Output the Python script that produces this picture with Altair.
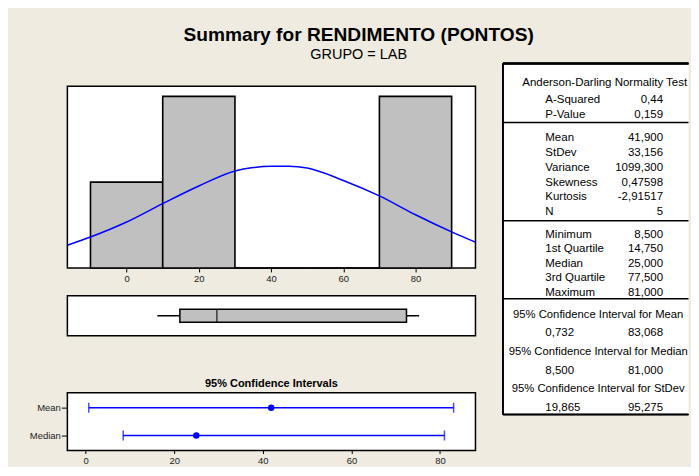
import altair as alt
import pandas as pd

# ---------------- data ----------------
# histogram of RENDIMENTO (PONTOS), GRUPO = LAB
bin_start = [-10, 10, 30, 50, 70]
bin_end = [10, 30, 50, 70, 90]
bin_count = [1, 2, 0, 0, 2]

# fitted normal curve
curve_x = [-16.4, -10, 0, 10, 20, 30, 35, 40, 45, 50, 60, 70, 80, 90, 96.6]
curve_y = [0.265, 0.36, 0.535, 0.75, 0.955, 1.13, 1.17, 1.185, 1.185, 1.165, 1.02, 0.84, 0.62, 0.42, 0.30]

# boxplot statistics
box_stats = {"min": 8.5, "q1": 14.75, "median": 25.0, "q3": 77.5, "max": 81.0}

# 95% confidence intervals
ci_names = ["Mean", "Median"]
ci_est = [41.9, 25.0]
ci_low = [0.732, 8.5]
ci_high = [83.068, 81.0]

# summary table
table_header = "Anderson-Darling Normality Test"
ad_labels = ["A-Squared", "P-Value"]
ad_values = ["0,44", "0,159"]
desc_labels = ["Mean", "StDev", "Variance", "Skewness", "Kurtosis", "N"]
desc_values = ["41,900", "33,156", "1099,300", "0,47598", "-2,91517", "5"]
quart_labels = ["Minimum", "1st Quartile", "Median", "3rd Quartile", "Maximum"]
quart_values = ["8,500", "14,750", "25,000", "77,500", "81,000"]
ci_titles = ["95% Confidence Interval for Mean",
             "95% Confidence Interval for Median",
             "95% Confidence Interval for StDev"]
ci_low_txt = ["0,732", "8,500", "19,865"]
ci_high_txt = ["83,068", "81,000", "95,275"]

# ---------------- styling ----------------
BG = "#EFEBE1"
GREY = "#C0C0C0"
BLUE = "#0000FF"
FONT = "Liberation Sans"
W = 409

hist_x = alt.Scale(domain=[-16.4, 96.6], nice=False, zero=False)
ci_x = alt.Scale(domain=[-4.1, 88.0], nice=False, zero=False)
tick_vals = [0, 20, 40, 60, 80]

def x_axis(ts):
    return alt.Axis(values=tick_vals, title=None, tickSize=ts, labelFontSize=9.5,
                    labelPadding=2, domain=False, grid=False, tickColor="black",
                    labelColor="#222222", format="d")

# ---------------- histogram ----------------
hist_df = pd.DataFrame({"start": bin_start, "end": bin_end, "count": bin_count})
bars = alt.Chart(hist_df).mark_bar(fill=GREY, stroke="black", strokeWidth=1.6).encode(
    x=alt.X("start:Q", scale=hist_x, axis=x_axis(4)),
    x2="end:Q",
    y=alt.Y("count:Q", scale=alt.Scale(domain=[0, 2.117], nice=False), axis=None),
    y2=alt.datum(0),
)
curve_df = pd.DataFrame({"x": curve_x, "y": curve_y})
curve = alt.Chart(curve_df).mark_line(color=BLUE, strokeWidth=1.5, interpolate="monotone",
                                      clip=True).encode(x="x:Q", y="y:Q")
hist = alt.layer(bars, curve).properties(width=W, height=182)

# ---------------- boxplot ----------------
box_df = pd.DataFrame({"row": ["box"], **{k: [v] for k, v in box_stats.items()}})
whisk = alt.Chart(box_df).mark_rule(color="black", strokeWidth=1.5).encode(
    x=alt.X("min:Q", scale=hist_x, axis=None), x2="max:Q",
    y=alt.Y("row:N", axis=None))
boxr = alt.Chart(box_df).mark_bar(size=13, fill=GREY, stroke="black", strokeWidth=1.5).encode(
    x="q1:Q", x2="q3:Q", y="row:N")
med = alt.Chart(box_df).mark_tick(color="black", size=13, thickness=1.5).encode(
    x="median:Q", y="row:N")
box_chart = alt.layer(whisk, boxr, med).properties(width=W, height=40)

# ---------------- confidence intervals ----------------
ci_df = pd.DataFrame({"name": ci_names, "est": ci_est, "low": ci_low, "high": ci_high})
ci_y = alt.Y("name:N", sort=ci_names, scale=alt.Scale(type="point", padding=0.54),
             axis=alt.Axis(title=None, tickSize=6, labelPadding=1, labelFontSize=9.5,
                           domain=False, grid=False, tickColor="black", labelColor="#222222"))
ci_line = alt.Chart(ci_df).mark_rule(color=BLUE, strokeWidth=1.5).encode(
    x=alt.X("low:Q", scale=ci_x, axis=x_axis(3)), x2="high:Q", y=ci_y)
ci_cap_l = alt.Chart(ci_df).mark_tick(color=BLUE, size=10, thickness=1.5).encode(x="low:Q", y=ci_y)
ci_cap_h = alt.Chart(ci_df).mark_tick(color=BLUE, size=10, thickness=1.5).encode(x="high:Q", y=ci_y)
ci_pt = alt.Chart(ci_df).mark_point(filled=True, size=42, color=BLUE, opacity=1).encode(x="est:Q", y=ci_y)
ci_chart = alt.layer(ci_line, ci_cap_l, ci_cap_h, ci_pt).properties(
    width=W, height=58,
    title=alt.TitleParams("95% Confidence Intervals", fontSize=11, fontWeight="bold",
                          font=FONT, offset=4, color="black"))

# ---------------- summary table ----------------
TW, TH = 186, 352
rows = []  # text, ypos, column
seps = []
rows.append((table_header, 17.7, "center"))

def section(labels, values, start, pitch):
    yy = start
    for lbl, val in zip(labels, values):
        rows.append((lbl, yy, "left")); rows.append((val, yy, "right"))
        yy += pitch
    return yy - pitch

last = section(ad_labels, ad_values, 35.3, 14.7)
seps.append(last + 9.3)
last = section(desc_labels, desc_values, seps[-1] + 14.4, 14.8)
seps.append(last + 10)
last = section(quart_labels, quart_values, seps[-1] + 12.5, 14.6)
seps.append(last + 7.3)
y = seps[-1] + 14.3
for t, lo, hi in zip(ci_titles, ci_low_txt, ci_high_txt):
    rows.append((t, y, "cihead")); y += 18.7
    rows.append((lo, y, "left")); rows.append((hi, y, "right")); y += 18.7

tab_df = pd.DataFrame(rows, columns=["text", "ypos", "col"])
sep_df = pd.DataFrame({"ypos": seps})
ty = alt.Y("ypos:Q", scale=alt.Scale(domain=[0, TH], reverse=True, nice=False), axis=None)

def txt(col, align, xpx, fs=11.5):
    return alt.Chart(tab_df).transform_filter(alt.datum.col == col).mark_text(
        align=align, baseline="middle", fontSize=fs, font=FONT, color="black",
        dy=1.5).encode(x=alt.value(xpx), y=ty, text="text:N")

t_left = txt("left", "left", 42.5)
t_right = txt("right", "right", 160.5)
t_center = txt("center", "center", 102)
t_cihead = txt("cihead", "center", 95.5, 11.3)
t_seps = alt.Chart(sep_df).mark_rule(color="black", strokeWidth=1.5).encode(
    x=alt.value(0), x2=alt.value(TW), y=ty)
t_top = alt.Chart(sep_df).mark_rule(color="black", strokeWidth=2).encode(
    x=alt.value(0), x2=alt.value(TW), y=alt.value(0))
t_bot = alt.Chart(sep_df).mark_rule(color="black", strokeWidth=1.5).encode(
    x=alt.value(0), x2=alt.value(TW), y=alt.value(TH))
t_left_b = alt.Chart(sep_df).mark_rule(color="black", strokeWidth=1.5).encode(
    x=alt.value(0), y=alt.value(0), y2=alt.value(TH))
table = alt.layer(t_top, t_bot, t_left_b, t_seps, t_left, t_right, t_center, t_cihead).properties(
    width=TW, height=TH, view=alt.ViewBackground(fill="white", stroke="transparent"))

# ---------------- layout ----------------
def spacer(h):
    return alt.Chart(pd.DataFrame({"a": [0]})).mark_point(opacity=0).encode(
        x=alt.X("a:Q", axis=None), y=alt.Y("a:Q", axis=None)).properties(
        width=W, height=h, view=alt.ViewBackground(fill="transparent", stroke="transparent"))

S = 10
left = alt.vconcat(spacer(13), hist, spacer(8), box_chart, spacer(37), ci_chart,
                   spacing=S, bounds="flush")

chart = alt.hconcat(left, table, spacing=24.5).properties(
    title=alt.TitleParams("Summary for RENDIMENTO (PONTOS)", subtitle="GRUPO = LAB",
                          fontSize=19.2, fontWeight="bold", font=FONT, color="black",
                          subtitleFont=FONT, subtitleFontSize=14.5, subtitleColor="black",
                          subtitlePadding=3, anchor="middle", dx=-0.75, offset=0),
    padding={"left": 20.5, "top": 17, "right": 0, "bottom": 0},
    background=BG,
).configure(font=FONT).configure_view(stroke="black", strokeWidth=1.5, fill="white")

chart.save("out.html", embed_options={"renderer": "svg", "actions": False})
